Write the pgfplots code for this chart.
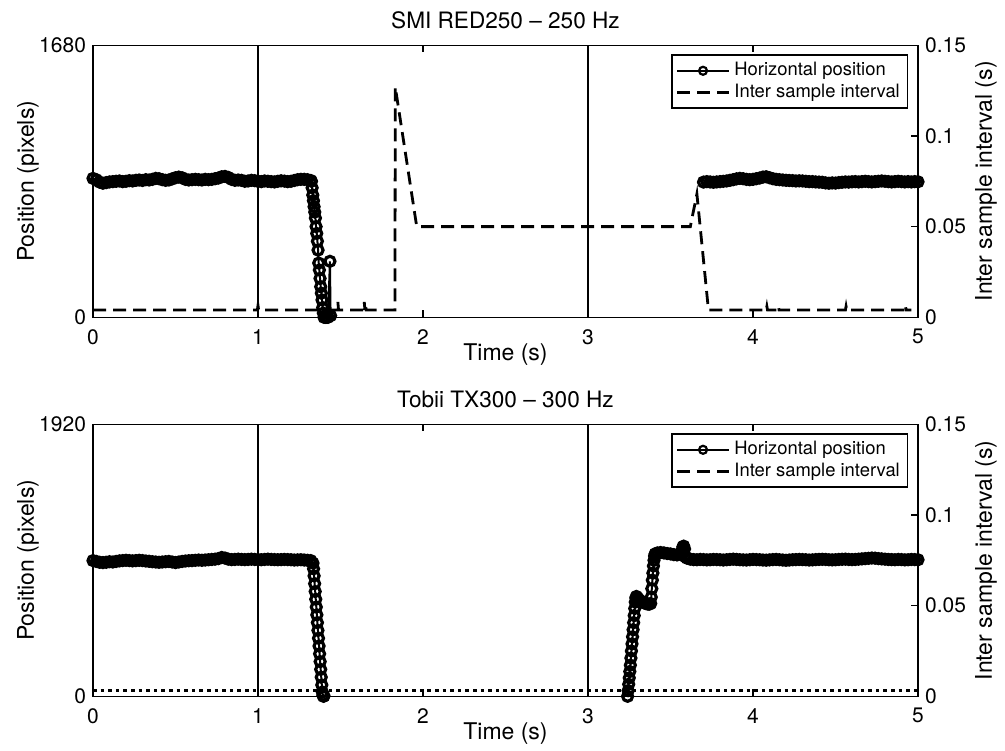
\documentclass[border=0pt]{standalone}
\usepackage{fontspec}
\setmainfont{TeX Gyre Heros}
\usepackage{pgfplots}
\pgfplotsset{compat=1.18}

\pgfplotstableread{
t v
0.00 858
0.02 850
0.04 835
0.06 828
0.08 832
0.10 836
0.12 838
0.14 840
0.16 842
0.18 838
0.20 840
0.22 844
0.24 842
0.26 846
0.28 848
0.30 845
0.32 850
0.34 848
0.36 852
0.38 858
0.40 856
0.42 850
0.44 846
0.46 848
0.48 855
0.50 862
0.52 866
0.54 862
0.56 852
0.58 848
0.60 850
0.62 852
0.64 850
0.66 848
0.68 852
0.70 850
0.72 852
0.74 856
0.76 860
0.78 868
0.80 870
0.82 864
0.84 852
0.86 846
0.88 848
0.90 846
0.92 840
0.94 842
0.96 846
0.98 844
1.00 840
1.02 838
1.04 842
1.06 840
1.08 838
1.10 836
1.12 840
1.14 843
1.16 841
1.18 838
1.20 840
1.22 845
1.24 850
1.26 852
1.28 852
1.30 850
1.32 845
1.324 840
1.328 800
1.332 755
1.336 720
1.340 683
1.344 650
1.348 613
1.352 560
1.356 518
1.360 470
1.364 415
1.368 335
1.372 292
1.376 240
1.380 189
1.384 149
1.388 107
1.392 60
1.396 26
1.400 0
1.404 5
1.408 0
1.412 3
1.416 0
1.420 2
1.424 0
1.436 346
1.440 10
}\smiposA

\pgfplotstableread{
t v
3.70 835
3.72 838
3.74 836
3.76 834
3.78 836
3.80 838
3.82 840
3.84 842
3.86 846
3.88 850
3.90 855
3.92 858
3.94 856
3.96 852
3.98 850
4.00 852
4.02 856
4.04 860
4.06 866
4.08 868
4.10 862
4.12 856
4.14 852
4.16 850
4.18 848
4.20 846
4.22 845
4.24 844
4.26 842
4.28 843
4.30 842
4.32 840
4.34 838
4.36 838
4.38 836
4.40 835
4.42 834
4.44 830
4.46 828
4.48 830
4.50 829
4.52 832
4.54 834
4.56 836
4.58 835
4.60 837
4.62 838
4.64 836
4.66 838
4.68 840
4.70 838
4.72 836
4.74 838
4.76 840
4.78 842
4.80 840
4.82 838
4.84 836
4.86 838
4.88 840
4.90 838
4.92 836
4.94 838
4.96 836
4.98 838
5.00 837
}\smiposB

\pgfplotstableread{
t v
0.000 0.004
0.996 0.004
1.000 0.0065
1.004 0.004
1.480 0.004
1.484 0.0085
1.488 0.004
1.640 0.004
1.644 0.0085
1.648 0.004
1.652 0.0075
1.656 0.004
1.830 0.004
1.832 0.127
1.962 0.050
3.620 0.050
3.660 0.068
3.730 0.004
4.080 0.004
4.084 0.006
4.088 0.004
4.150 0.004
4.154 0.006
4.158 0.004
4.560 0.004
4.564 0.006
4.568 0.004
4.920 0.004
4.924 0.0065
4.928 0.004
4.960 0.004
}\smiisi

\pgfplotstableread{
t v
0.00 958
0.02 952
0.04 946
0.06 944
0.08 946
0.10 950
0.12 948
0.14 952
0.16 956
0.18 958
0.20 960
0.22 958
0.24 956
0.26 958
0.28 960
0.30 958
0.32 955
0.34 953
0.36 950
0.38 948
0.40 946
0.42 948
0.44 950
0.46 952
0.48 948
0.50 944
0.52 948
0.54 952
0.56 955
0.58 957
0.60 958
0.62 960
0.64 962
0.66 960
0.68 962
0.70 964
0.72 966
0.74 968
0.76 972
0.78 980
0.80 976
0.82 968
0.84 965
0.86 966
0.88 968
0.90 966
0.92 965
0.94 966
0.96 968
0.98 966
1.00 965
1.02 964
1.04 966
1.06 968
1.08 966
1.10 965
1.12 964
1.14 965
1.16 966
1.18 965
1.20 964
1.22 962
1.24 963
1.26 964
1.28 962
1.30 960
1.32 958
1.3333 940
1.3367 900
1.3400 850
1.3433 795
1.3467 740
1.3500 685
1.3533 630
1.3567 575
1.3600 520
1.3633 465
1.3667 410
1.3700 355
1.3733 300
1.3767 245
1.3800 190
1.3833 135
1.3867 80
1.3900 30
1.3933 8
1.3967 0
1.4000 3
}\tobiiposA

\pgfplotstableread{
t v
3.2400 0
3.2433 40
3.2467 85
3.2500 130
3.2533 175
3.2567 220
3.2600 270
3.2633 320
3.2667 370
3.2700 420
3.2733 470
3.2767 520
3.2800 570
3.2833 620
3.2867 665
3.2900 695
3.2933 705
3.30 695
3.31 682
3.32 672
3.33 665
3.34 660
3.35 655
3.36 652
3.37 650
3.38 655
3.3833 700
3.3867 760
3.3900 820
3.3933 870
3.3967 920
3.4000 960
3.4033 990
3.4067 1005
3.42 1012
3.44 1015
3.46 1012
3.48 1008
3.50 1005
3.52 1000
3.54 998
3.56 1002
3.570 1030
3.575 1055
3.580 1060
3.585 1040
3.59 985
3.60 975
3.62 968
3.64 965
3.66 964
3.68 966
3.70 965
3.72 963
3.74 964
3.76 966
3.78 965
3.80 964
3.82 962
3.84 964
3.86 966
3.88 968
3.90 966
3.92 964
3.94 963
3.96 962
3.98 964
4.00 966
4.02 965
4.04 964
4.06 962
4.08 961
4.10 963
4.12 965
4.14 966
4.16 964
4.18 962
4.20 960
4.22 962
4.24 964
4.26 965
4.28 966
4.30 965
4.32 964
4.34 962
4.36 963
4.38 965
4.40 966
4.42 967
4.44 966
4.46 964
4.48 963
4.50 964
4.52 966
4.54 967
4.56 968
4.58 966
4.60 965
4.62 966
4.64 968
4.66 970
4.68 972
4.70 974
4.72 976
4.74 975
4.76 972
4.78 970
4.80 968
4.82 966
4.84 965
4.86 964
4.88 966
4.90 965
4.92 963
4.94 964
4.96 966
4.98 965
5.00 964
}\tobiiposB

\pgfplotstableread{
t v
0.00 0.00333
1.00 0.00333
2.00 0.00333
3.00 0.00333
4.00 0.00333
5.00 0.00333
}\tobiiisi

\pgfplotsset{
  base/.style={scale only axis, width=412.5pt, height=136pt, xmin=0, xmax=5,
    tick align=inside, major tick length=3.5pt,
    axis line style={line width=0.7pt},
    every tick/.style={black,line width=0.7pt},
    tick label style={font=\fontsize{10.5}{12}\selectfont},
    label style={font=\fontsize{11.5}{13}\selectfont},
    title style={font=\fontsize{11.3}{13}\selectfont, at={(axis description cs:0.5,1.0625)}, anchor=base, yshift=-6pt},
    /pgf/number format/assume math mode=true,
    /pgf/number format/1000 sep={},
  },
  pos/.style={black, line width=1pt, mark=o, mark size=2.5pt, mark options={line width=1.6pt, solid}},
  isi/.style={black, line width=1.4pt, dash pattern=on 6.5pt off 3.5pt},
  isib/.style={black, line width=1.6pt, dash pattern=on 1.8pt off 2pt},
  legpos/.style={black, line width=1pt, mark=o, mark size=2pt, mark options={line width=1.1pt, solid}},
  leftax/.style={base, ytick pos=left, xtick={0,1,2,3,4,5},
    xticklabel style={yshift=-2.5pt},
    xlabel={Time (s)}, ylabel={Position (pixels)},
    xlabel style={at={(axis description cs:0.5,-0.158)}, anchor=base},
    ylabel style={at={(axis description cs:-0.057,0.5)}, anchor=south},
  },
  rightax/.style={base, axis y line*=right, axis x line=none, ymin=0, ymax=0.15,
    ytick={0,0.05,0.1,0.15}, yticklabels={0,0.05,0.1,0.15},
    ylabel={Inter sample interval (s)},
    ylabel style={at={(axis description cs:1.0606,0.5)}, anchor=north},
    legend style={at={(rel axis cs:0.988,0.967)}, anchor=north east,
      font=\fontsize{9.2}{10.5}\selectfont, draw=black, line width=0.7pt,
      cells={anchor=west}, inner sep=1.8pt, row sep=-1.5pt},
  },
}

\begin{document}
\begin{tikzpicture}
% ---- Top panel ----
\begin{axis}[leftax, at={(0pt,0pt)}, anchor=south west, ymin=0, ymax=1680, ytick={0,1680},
  title={SMI RED250 -- 250 Hz}]
\addplot[black, line width=1pt] coordinates {(1,0) (1,1680)};
\addplot[black, line width=1pt] coordinates {(3,0) (3,1680)};
\addplot[pos] table[x=t,y=v] {\smiposA};
\addplot[pos] table[x=t,y=v] {\smiposB};
\end{axis}
\begin{axis}[rightax, at={(0pt,0pt)}, anchor=south west,
  legend image code/.code={\draw[mark repeat=2,mark phase=2,#1] plot coordinates {(0pt,0pt)(13pt,0pt)(26pt,0pt)};}]
\addlegendimage{legpos}
\addlegendentry{Horizontal position}
\addplot[isi] table[x=t,y=v] {\smiisi};
\addlegendentry{Inter sample interval}
\end{axis}
% ---- Bottom panel ----
\begin{axis}[leftax, at={(0pt,-189.5pt)}, anchor=south west, ymin=0, ymax=1920, ytick={0,1920},
  title={Tobii TX300 -- 300 Hz}]
\addplot[black, line width=1pt] coordinates {(1,0) (1,1920)};
\addplot[black, line width=1pt] coordinates {(3,0) (3,1920)};
\addplot[pos] table[x=t,y=v] {\tobiiposA};
\addplot[pos] table[x=t,y=v] {\tobiiposB};
\end{axis}
\begin{axis}[rightax, at={(0pt,-189.5pt)}, anchor=south west,
  legend image code/.code={\draw[mark repeat=2,mark phase=2,#1] plot coordinates {(0pt,0pt)(13pt,0pt)(26pt,0pt)};}]
\addlegendimage{legpos}
\addlegendentry{Horizontal position}
\addlegendimage{isi}
\addlegendentry{Inter sample interval}
\addplot[isib, forget plot] table[x=t,y=v] {\tobiiisi};
\end{axis}
\pgfresetboundingbox
\path[use as bounding box] (-46.5pt,-216.35pt) rectangle (456pt,158.65pt);
\end{tikzpicture}
\end{document}
